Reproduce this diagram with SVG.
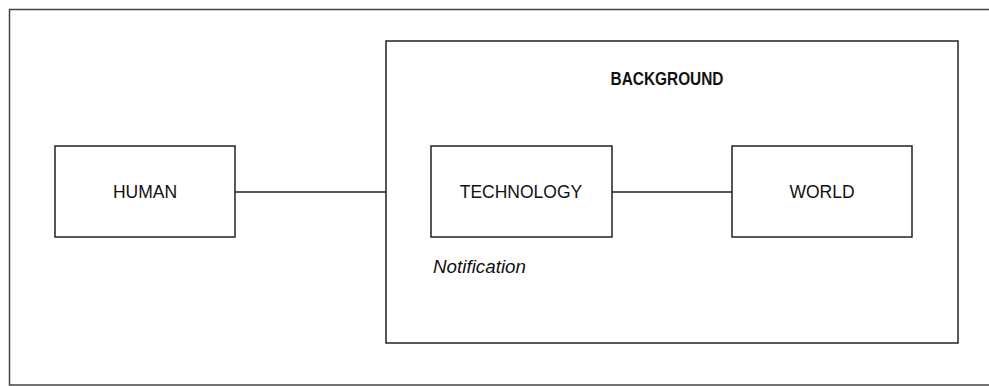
<svg xmlns="http://www.w3.org/2000/svg" width="989" height="386" viewBox="0 0 989 386">
<style>
.box{fill:#fff;stroke:#222;stroke-width:1.5}
.lbl{font-family:"Liberation Sans",Arial,sans-serif;font-size:17.5px;fill:#111;text-anchor:middle;dominant-baseline:central}
.note{font-family:"Liberation Sans",Arial,sans-serif;font-size:18px;font-style:italic;fill:#111;text-anchor:start;dominant-baseline:central}
.con{stroke:#222;stroke-width:1.5;fill:none}
</style>
<rect width="989" height="386" fill="#fff"/>
<path d="M989,9.5 H9.5 V385 H989" fill="none" stroke="#444" stroke-width="1.5"/>
<g id="background">
<rect class="box" x="386" y="41" width="572" height="302"/>
<text class="lbl" x="667" y="79" font-weight="bold" textLength="113" lengthAdjust="spacingAndGlyphs">BACKGROUND</text>
</g>
<g id="connectors">
<line class="con" x1="235" y1="192" x2="386" y2="192"/>
<line class="con" x1="612" y1="192" x2="732" y2="192"/>
</g>
<g id="human">
<rect class="box" x="55" y="146" width="180" height="91"/>
<text class="lbl" x="145" y="192">HUMAN</text>
</g>
<g id="technology">
<rect class="box" x="431" y="146" width="181" height="91"/>
<text class="lbl" x="521" y="192">TECHNOLOGY</text>
</g>
<g id="world">
<rect class="box" x="732" y="146" width="180" height="91"/>
<text class="lbl" x="822" y="192">WORLD</text>
</g>
<g id="notification">
<text class="note" x="433" y="267" textLength="93" lengthAdjust="spacingAndGlyphs">Notification</text>
</g>
</svg>
